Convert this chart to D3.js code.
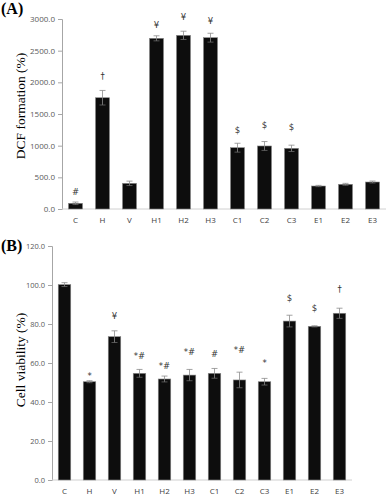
<!DOCTYPE html>
<html><head><meta charset="utf-8">
<script src="https://cdn.jsdelivr.net/npm/d3@7"></script>
<style>body{margin:0;background:#fff}svg{display:block}</style>
</head><body>
<script>
const categories = ["C","H","V","H1","H2","H3","C1","C2","C3","E1","E2","E3"];
// Panel A: DCF formation (%)
const dcfValues = [90,1757,405,2695,2742,2705,968,995,958,363,390,426];
const dcfErrors = [20,115,35,40,65,70,70,70,50,10,15,15];
const dcfMarks = ["#","†","","¥","¥","¥","$","$","$","","",""];
const dcfMarkY = [268,2100,0,2905,3016,2953,1232,1315,1279,0,0,0];
const dcfTicks = [0,500,1000,1500,2000,2500,3000];
// Panel B: Cell viability (%)
const cvValues = [100.2,50.4,73.5,54.7,51.8,53.8,54.7,51.3,50.4,81.5,78.8,85.5];
const cvErrors = [1,0.5,3,2,1.5,2.9,2.5,4,1.7,3,0.3,2.6];
const cvMarks = ["","*","¥","*#","*#","*#","#","*#","*","$","$","†"];
const cvMarkY = [0,53.3,83.7,63.2,58.1,65.3,64.5,66.2,59.5,93.3,87.7,97.8];
const cvTicks = [0,20,40,60,80,100,120];

const svg = d3.select("body").append("svg").attr("width",387).attr("height",495);

function panel(cfg){
  const g = svg.append("g");
  const x = d3.scaleBand().domain(categories).range([cfg.x0,cfg.x1]).paddingInner(cfg.pad).paddingOuter(cfg.pad/2);
  const y = d3.scaleLinear().domain([0,cfg.max]).range([cfg.y0,cfg.y1]);
  // y axis
  const ya = g.append("g").attr("transform",`translate(${cfg.x0},0)`)
    .call(d3.axisLeft(y).tickValues(cfg.ticks).tickFormat(d3.format(".1f")).tickSizeOuter(0).tickSize(4).tickPadding(3));
  ya.select(".domain").attr("stroke","#a6a6a6");
  ya.selectAll(".tick line").attr("stroke","#a6a6a6");
  ya.selectAll(".tick text").attr("fill","#595959").style("font-family","'Open Sans',sans-serif").style("font-size",cfg.tickFont+"px");
  // baseline
  g.append("line").attr("x1",cfg.x0).attr("x2",cfg.x1).attr("y1",y(0)).attr("y2",y(0)).attr("stroke","#d0d0d0");
  // bars
  g.selectAll("rect.bar").data(cfg.values).join("rect").attr("class","bar")
    .attr("x",(d,i)=>x(categories[i])).attr("width",x.bandwidth())
    .attr("y",d=>y(d)).attr("height",d=>y(0)-y(d))
    .attr("fill","#0d0d0d").attr("stroke","#8a8a8a").attr("stroke-width",0.6);
  // error bars
  const eb = g.selectAll("g.err").data(cfg.values).join("g").attr("class","err");
  const cw = 3;
  eb.append("line").attr("x1",(d,i)=>x(categories[i])+x.bandwidth()/2).attr("x2",(d,i)=>x(categories[i])+x.bandwidth()/2)
    .attr("y1",(d,i)=>y(d+cfg.errors[i])).attr("y2",(d,i)=>y(d-cfg.errors[i])).attr("stroke","#8c8c8c").attr("stroke-width",0.8);
  eb.append("line").attr("x1",(d,i)=>x(categories[i])+x.bandwidth()/2-cw).attr("x2",(d,i)=>x(categories[i])+x.bandwidth()/2+cw)
    .attr("y1",(d,i)=>y(d+cfg.errors[i])).attr("y2",(d,i)=>y(d+cfg.errors[i])).attr("stroke","#8c8c8c").attr("stroke-width",0.8);
  eb.append("line").attr("x1",(d,i)=>x(categories[i])+x.bandwidth()/2-cw).attr("x2",(d,i)=>x(categories[i])+x.bandwidth()/2+cw)
    .attr("y1",(d,i)=>y(d-cfg.errors[i])).attr("y2",(d,i)=>y(d-cfg.errors[i])).attr("stroke","#6a6a6a").attr("stroke-width",0.8);
  // annotations
  g.selectAll("text.mk").data(cfg.marks).join("text").attr("class","mk")
    .attr("x",(d,i)=>x(categories[i])+x.bandwidth()/2).attr("y",(d,i)=>y(cfg.markY[i]))
    .attr("text-anchor","middle").attr("dominant-baseline","middle")
    .attr("fill","#333333").style("font-family","'DejaVu Sans',sans-serif").style("font-size","8.5px").text(d=>d);
  // x labels
  g.selectAll("text.xl").data(categories).join("text").attr("class","xl")
    .attr("x",d=>x(d)+x.bandwidth()/2).attr("y",cfg.labelY)
    .attr("text-anchor","middle").attr("dominant-baseline","middle")
    .attr("fill","#404040").style("font-family","'Open Sans',sans-serif").style("font-size","8px").text(d=>d);
  // y title
  g.append("text").attr("transform",`translate(${cfg.titleX},${cfg.titleY}) rotate(-90)`)
    .attr("text-anchor","middle").attr("dominant-baseline","middle")
    .style("font-family","'Liberation Serif',serif").style("font-size","13.5px").attr("fill","#000").text(cfg.title);
  // panel letter
  g.append("text").attr("x",1).attr("y",cfg.letterY).style("font-family","'Liberation Serif',serif")
    .style("font-weight","bold").style("font-size","16px").text(cfg.letter);
}

panel({values:dcfValues,errors:dcfErrors,marks:dcfMarks,markY:dcfMarkY,ticks:dcfTicks,max:3000,
  x0:62,x1:386,y0:209,y1:19,pad:0.48,tickFont:8,labelY:221,title:"DCF formation (%)",titleX:22,titleY:106,
  letter:"(A)",letterY:14});
panel({values:cvValues,errors:cvErrors,marks:cvMarks,markY:cvMarkY,ticks:cvTicks,max:120,
  x0:52,x1:352,y0:480,y1:246,pad:0.5,tickFont:7.5,labelY:492,title:"Cell viability (%)",titleX:22,titleY:360,
  letter:"(B)",letterY:251});
</script>
</body></html>
